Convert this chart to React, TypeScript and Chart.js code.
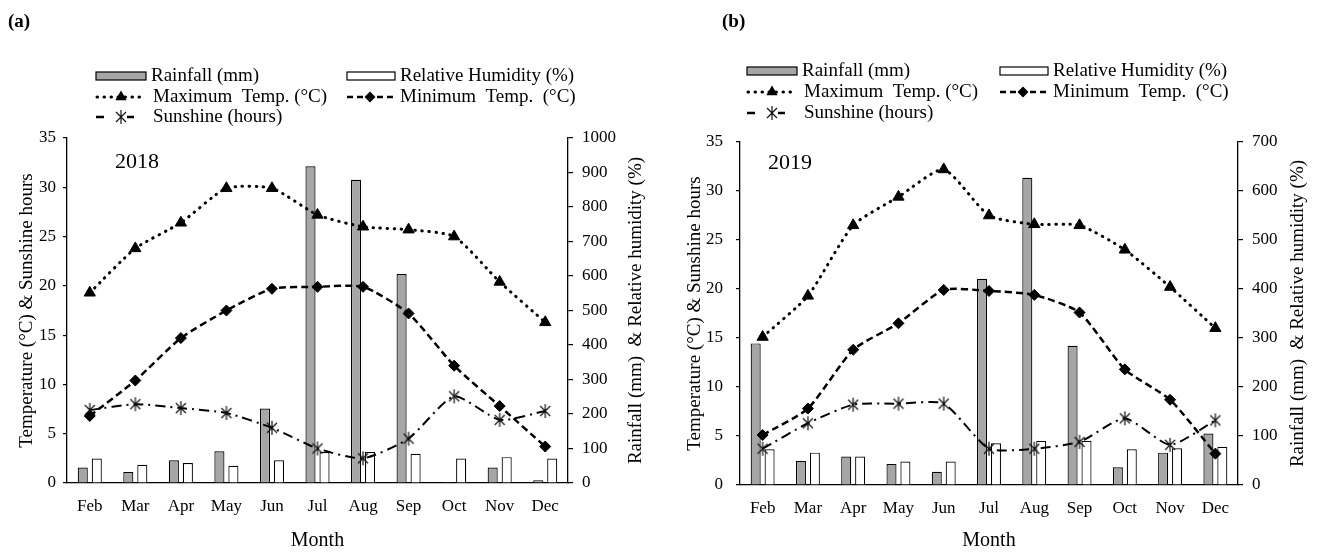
import React, { useEffect, useRef } from 'react';
import { Chart, registerables } from 'chart.js';

Chart.register(...registerables);

const FONT = "'Liberation Serif', 'Times New Roman', serif";

// ---------- data ----------
const months = ['Feb', 'Mar', 'Apr', 'May', 'Jun', 'Jul', 'Aug', 'Sep', 'Oct', 'Nov', 'Dec'];
const leftTickValues = [0, 5, 10, 15, 20, 25, 30, 35];

const rainfall2018 = [45, 32, 66, 92, 216, 918, 879, 606, 3, 45, 8];
const humidity2018 = [71, 53, 58, 50, 66, 90, 90, 85, 71, 75, 71];
const maxTemp2018 = [19.3, 23.8, 26.4, 29.9, 29.9, 27.2, 26.0, 25.7, 25.0, 20.4, 16.3];
const minTemp2018 = [6.8, 10.4, 14.7, 17.5, 19.7, 19.9, 19.9, 17.2, 11.9, 7.8, 3.7];
const sunshine2018 = [7.4, 8.0, 7.6, 7.1, 5.6, 3.5, 2.5, 4.5, 8.8, 6.4, 7.3];

const rainfall2019 = [289, 49, 58, 43, 27, 421, 627, 284, 36, 66, 105];
const humidity2019 = [73, 66, 58, 48, 48, 85, 90, 90, 73, 75, 78];
const maxTemp2019 = [15.1, 19.3, 26.5, 29.4, 32.2, 27.5, 26.6, 26.5, 24.0, 20.2, 16.0];
const minTemp2019 = [5.1, 7.8, 13.8, 16.5, 19.9, 19.8, 19.4, 17.6, 11.8, 8.7, 3.2];
const sunshine2019 = [3.7, 6.3, 8.2, 8.3, 8.3, 3.7, 3.7, 4.4, 6.8, 4.1, 6.6];

const rightMax2018 = 1000;
const rightMax2019 = 700;

// ---------- styles ----------
const GREY = '#a6a6a6';

function makeStar(): HTMLCanvasElement {
  const c = document.createElement('canvas');
  c.width = 16;
  c.height = 16;
  const g = c.getContext('2d')!;
  g.strokeStyle = '#111';
  g.lineWidth = 1.2;
  g.beginPath();
  g.moveTo(3, 3); g.lineTo(13, 13);
  g.moveTo(13, 3); g.lineTo(3, 13);
  g.moveTo(8, 1); g.lineTo(8, 15);
  g.stroke();
  return c;
}

type PanelCfg = {
  label: string;
  year: string;
  W: number;
  H: number;
  area: { l: number; r: number; t: number; b: number };
  rightMax: number;
  rain: number[];
  hum: number[];
  maxT: number[];
  minT: number[];
  sun: number[];
  labelX: number;
  yearX: number;
  yearY: number;
  col1: number;
  col2: number;
  rows: number[];
  leftTitleX: number;
  rightTitleX: number;
  leftTickPad: number;
};

function drawTriangle(ctx: CanvasRenderingContext2D, x: number, y: number, r: number) {
  ctx.beginPath();
  for (let i = 0; i < 3; i++) {
    const a = (i * 2 * Math.PI) / 3;
    const px = x + Math.sin(a) * r;
    const py = y - Math.cos(a) * r;
    if (i === 0) ctx.moveTo(px, py); else ctx.lineTo(px, py);
  }
  ctx.closePath();
  ctx.fill();
}

function drawDiamond(ctx: CanvasRenderingContext2D, x: number, y: number, r: number) {
  ctx.beginPath();
  ctx.moveTo(x, y - r);
  ctx.lineTo(x + r, y);
  ctx.lineTo(x, y + r);
  ctx.lineTo(x - r, y);
  ctx.closePath();
  ctx.fill();
}

function Panel({ cfg, left }: { cfg: PanelCfg; left: number }) {
  const ref = useRef<HTMLCanvasElement | null>(null);

  useEffect(() => {
    if (!ref.current) return;
    const star = makeStar();
    const { area, W, H } = cfg;

    const deco = {
      id: 'deco',
      afterDraw(chart: any) {
        const ctx: CanvasRenderingContext2D = chart.ctx;
        const ca = chart.chartArea;
        ctx.save();
        ctx.fillStyle = '#000';
        ctx.strokeStyle = '#000';
        ctx.textBaseline = 'middle';
        ctx.textAlign = 'left';
        // panel label
        ctx.font = `bold 19px ${FONT}`;
        ctx.fillText(cfg.label, cfg.labelX, 22);
        // year
        ctx.font = `22px ${FONT}`;
        ctx.fillText(cfg.year, cfg.yearX, cfg.yearY);
        // axis titles
        const midY = (ca.top + ca.bottom) / 2;
        ctx.font = `19px ${FONT}`;
        ctx.textAlign = 'center';
        ctx.save();
        ctx.translate(cfg.leftTitleX, midY);
        ctx.rotate(-Math.PI / 2);
        ctx.fillText('Temperature (°C) & Sunshine hours', 0, 0);
        ctx.restore();
        ctx.save();
        ctx.translate(cfg.rightTitleX, midY);
        ctx.rotate(-Math.PI / 2);
        ctx.fillText('Rainfall (mm)  & Relative humidity (%)', 0, 0);
        ctx.restore();
        ctx.font = `20px ${FONT}`;
        ctx.fillText('Month', (ca.left + ca.right) / 2, 541);

        // legend
        const [r1, r2, r3] = cfg.rows;
        const c1 = cfg.col1;
        const c2 = cfg.col2;
        ctx.textAlign = 'left';
        ctx.font = `19px ${FONT}`;
        ctx.lineWidth = 1.2;
        // rainfall box
        ctx.fillStyle = GREY;
        ctx.fillRect(c1, r1 - 4, 50, 8);
        ctx.strokeRect(c1, r1 - 4, 50, 8);
        ctx.fillStyle = '#000';
        ctx.fillText('Rainfall (mm)', c1 + 55, r1);
        // humidity box
        ctx.fillStyle = '#fff';
        ctx.fillRect(c2, r1 - 4, 48, 8);
        ctx.strokeRect(c2, r1 - 4, 48, 8);
        ctx.fillStyle = '#000';
        ctx.fillText('Relative Humidity (%)', c2 + 53, r1);
        // max temp
        ctx.save();
        ctx.lineWidth = 3;
        ctx.lineCap = 'round';
        ctx.setLineDash([0.5, 6.5]);
        ctx.beginPath();
        ctx.moveTo(c1 + 1, r2);
        ctx.lineTo(c1 + 50, r2);
        ctx.stroke();
        ctx.restore();
        drawTriangle(ctx, c1 + 25, r2, 6.5);
        ctx.fillText('Maximum  Temp. (°C)', c1 + 57, r2);
        // min temp
        ctx.save();
        ctx.lineWidth = 2.5;
        ctx.setLineDash([6, 4]);
        ctx.beginPath();
        ctx.moveTo(c2, r2);
        ctx.lineTo(c2 + 50, r2);
        ctx.stroke();
        ctx.restore();
        drawDiamond(ctx, c2 + 23, r2, 5.5);
        ctx.fillText('Minimum  Temp.  (°C)', c2 + 53, r2);
        // sunshine
        ctx.save();
        ctx.lineWidth = 2.5;
        ctx.beginPath();
        ctx.moveTo(c1, r3);
        ctx.lineTo(c1 + 8, r3);
        ctx.moveTo(c1 + 31, r3);
        ctx.lineTo(c1 + 38, r3);
        ctx.stroke();
        ctx.restore();
        ctx.drawImage(star, c1 + 25 - 8, r3 - 8);
        ctx.fillText('Sunshine (hours)', c1 + 57, r3);
        ctx.restore();
      },
    };

    const chart = new Chart(ref.current, {
      type: 'bar',
      data: {
        labels: months,
        datasets: [
          {
            type: 'line',
            label: 'Maximum Temp. (°C)',
            data: cfg.maxT,
            yAxisID: 'y',
            order: 0,
            borderColor: '#000',
            borderWidth: 3,
            borderDash: [0.5, 6.5],
            borderCapStyle: 'round',
            tension: 0.2,
            pointStyle: 'triangle',
            pointRadius: 6.5,
            pointBackgroundColor: '#000',
            pointBorderColor: '#000',
            pointBorderWidth: 1,
          } as any,
          {
            type: 'line',
            label: 'Minimum Temp. (°C)',
            data: cfg.minT,
            yAxisID: 'y',
            order: 0,
            borderColor: '#000',
            borderWidth: 2.5,
            borderDash: [7, 4],
            tension: 0.2,
            pointStyle: 'rectRot',
            pointRadius: 5.5,
            pointBackgroundColor: '#000',
            pointBorderColor: '#000',
            pointBorderWidth: 1,
          } as any,
          {
            type: 'line',
            label: 'Sunshine (hours)',
            data: cfg.sun,
            yAxisID: 'y',
            order: 0,
            borderColor: '#000',
            borderWidth: 2,
            borderDash: [10, 5, 2, 5],
            tension: 0.2,
            pointStyle: star,
            pointRadius: 7,
          } as any,
          {
            type: 'bar',
            label: 'Rainfall (mm)',
            data: cfg.rain,
            yAxisID: 'y1',
            order: 1,
            backgroundColor: GREY,
            borderColor: '#000',
            borderWidth: 1.2,
            categoryPercentage: 0.615,
            barPercentage: 0.72,
          } as any,
          {
            type: 'bar',
            label: 'Relative Humidity (%)',
            data: cfg.hum,
            yAxisID: 'y1',
            order: 1,
            backgroundColor: '#fff',
            borderColor: '#000',
            borderWidth: 1.2,
            categoryPercentage: 0.615,
            barPercentage: 0.72,
          } as any,
        ],
      },
      options: {
        animation: false,
        responsive: false,
        maintainAspectRatio: false,
        layout: { padding: { top: area.t, left: 0, right: 0, bottom: 0 } },
        plugins: {
          legend: { display: false },
          tooltip: { enabled: false },
          title: { display: false },
        },
        scales: {
          x: {
            type: 'category',
            offset: true,
            grid: { display: false, drawTicks: false },
            border: { display: true, color: '#000', width: 1.3 },
            ticks: {
              color: '#000',
              font: { family: FONT, size: 17 },
              padding: 13,
              maxRotation: 0,
              autoSkip: false,
            },
            afterFit: (s: any) => {
              s.height = H - area.b;
            },
          },
          y: {
            position: 'left',
            min: 0,
            max: 35,
            afterBuildTicks: (s: any) => {
              s.ticks = leftTickValues.map((v) => ({ value: v }));
            },
            ticks: {
              color: '#000',
              font: { family: FONT, size: 17 },
              padding: cfg.leftTickPad,
            },
            grid: { drawOnChartArea: false, drawTicks: true, tickLength: 4, color: '#000', lineWidth: 1.2 },
            border: { display: true, color: '#000', width: 1.3 },
            afterFit: (s: any) => {
              s.width = area.l;
            },
          },
          y1: {
            position: 'right',
            min: 0,
            max: cfg.rightMax,
            ticks: {
              stepSize: 100,
              color: '#000',
              font: { family: FONT, size: 17 },
              padding: 9,
              callback: (v: any) => String(v),
            },
            grid: { drawOnChartArea: false, drawTicks: true, tickLength: 5, color: '#000', lineWidth: 1.2 },
            border: { display: true, color: '#000', width: 1.3 },
            afterFit: (s: any) => {
              s.width = W - area.r;
            },
          },
        },
      } as any,
      plugins: [deco],
    });

    return () => chart.destroy();
  }, [cfg]);

  return (
    <canvas
      ref={ref}
      width={cfg.W}
      height={cfg.H}
      style={{ position: 'absolute', left, top: 0, width: cfg.W, height: cfg.H, display: 'block' }}
    />
  );
}

const panelA: PanelCfg = {
  label: '(a)',
  year: '2018',
  W: 660,
  H: 553,
  area: { l: 67, r: 568, t: 138, b: 483 },
  rightMax: rightMax2018,
  rain: rainfall2018,
  hum: humidity2018,
  maxT: maxTemp2018,
  minT: minTemp2018,
  sun: sunshine2018,
  labelX: 8,
  yearX: 115,
  yearY: 162,
  col1: 96,
  col2: 347,
  rows: [76, 97, 117],
  leftTitleX: 27,
  rightTitleX: 636,
  leftTickPad: 7,
};

const panelB: PanelCfg = {
  label: '(b)',
  year: '2019',
  W: 661,
  H: 553,
  area: { l: 80, r: 578, t: 142, b: 485 },
  rightMax: rightMax2019,
  rain: rainfall2019,
  hum: humidity2019,
  maxT: maxTemp2019,
  minT: minTemp2019,
  sun: sunshine2019,
  labelX: 62,
  yearX: 108,
  yearY: 163,
  col1: 87,
  col2: 340,
  rows: [71, 92, 113],
  leftTitleX: 35,
  rightTitleX: 638,
  leftTickPad: 13,
};

export default function App() {
  return (
    <div style={{ position: 'absolute', left: 0, top: 0, width: 1321, height: 553, background: '#fff' }}>
      <Panel cfg={panelA} left={0} />
      <Panel cfg={panelB} left={660} />
    </div>
  );
}
